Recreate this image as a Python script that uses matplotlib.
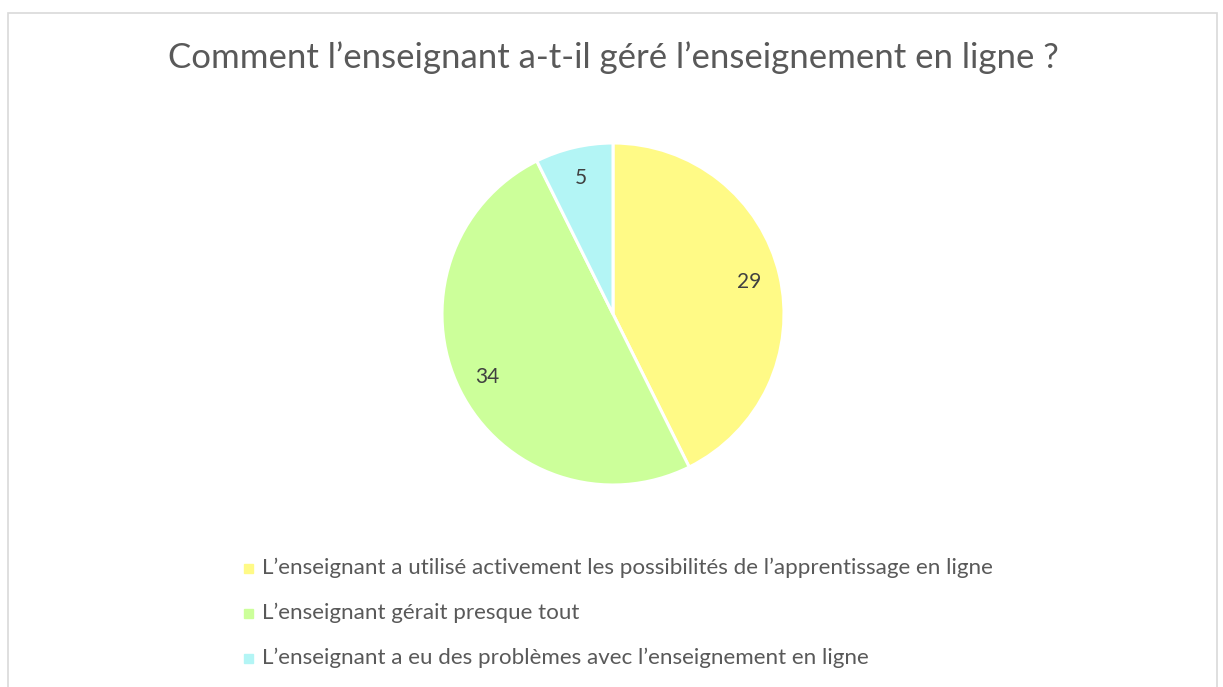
import matplotlib.pyplot as plt
from matplotlib.patches import Rectangle

title = "Comment l\u2019enseignant a-t-il g\u00e9r\u00e9 l\u2019enseignement en ligne ?"
labels = [
    "L\u2019enseignant a utilis\u00e9 activement les possibilit\u00e9s de l\u2019apprentissage en ligne",
    "L\u2019enseignant g\u00e9rait presque tout",
    "L\u2019enseignant a eu des probl\u00e8mes avec l\u2019enseignement en ligne",
]
values = [29, 34, 5]
colors = ["#FFFA86", "#CCFF9A", "#B3F5F5"]

W, H = 1223, 687
plt.rcParams['font.family'] = ['Lato', 'DejaVu Sans']
text_color = "#595959"

fig = plt.figure(figsize=(W / 100, H / 100), dpi=100)

# chart border
fig.patches.append(Rectangle((8 / W, -0.01), (1217 - 8) / W, (H - 13) / H + 0.01,
                             transform=fig.transFigure, fill=False,
                             edgecolor="#D9D9D9", linewidth=1.2))

fig.text(613 / W, 1 - 58 / H, title, ha="center", va="center",
         fontsize=25, color=text_color)

cx, cy, r = 613, 314, 171
ax = fig.add_axes([(cx - r) / W, (H - cy - r) / H, 2 * r / W, 2 * r / H])
total = sum(values)
wedges, _, autotexts = ax.pie(values, colors=colors, startangle=90, counterclock=False,
                              radius=1, autopct=lambda p: "%d" % round(p * total / 100),
                              pctdistance=0.82,
                              wedgeprops=dict(edgecolor="white", linewidth=2.2))
for t in autotexts:
    t.set_color("#404040")
    t.set_fontsize(15)
ax.set_xlim(-1, 1)
ax.set_ylim(-1, 1)
ax.set_aspect("equal")

# legend
for i, (lab, col) in enumerate(zip(labels, colors)):
    y = 1 - (568 + 45 * i) / H
    fig.patches.append(Rectangle((244 / W, y - 4.5 / H), 9 / W, 9 / H,
                                 transform=fig.transFigure, color=col))
    fig.text(262 / W, y, lab, ha="left", va="center", fontsize=16.1, color=text_color)

fig.savefig("out.png", dpi=100, facecolor="white")
